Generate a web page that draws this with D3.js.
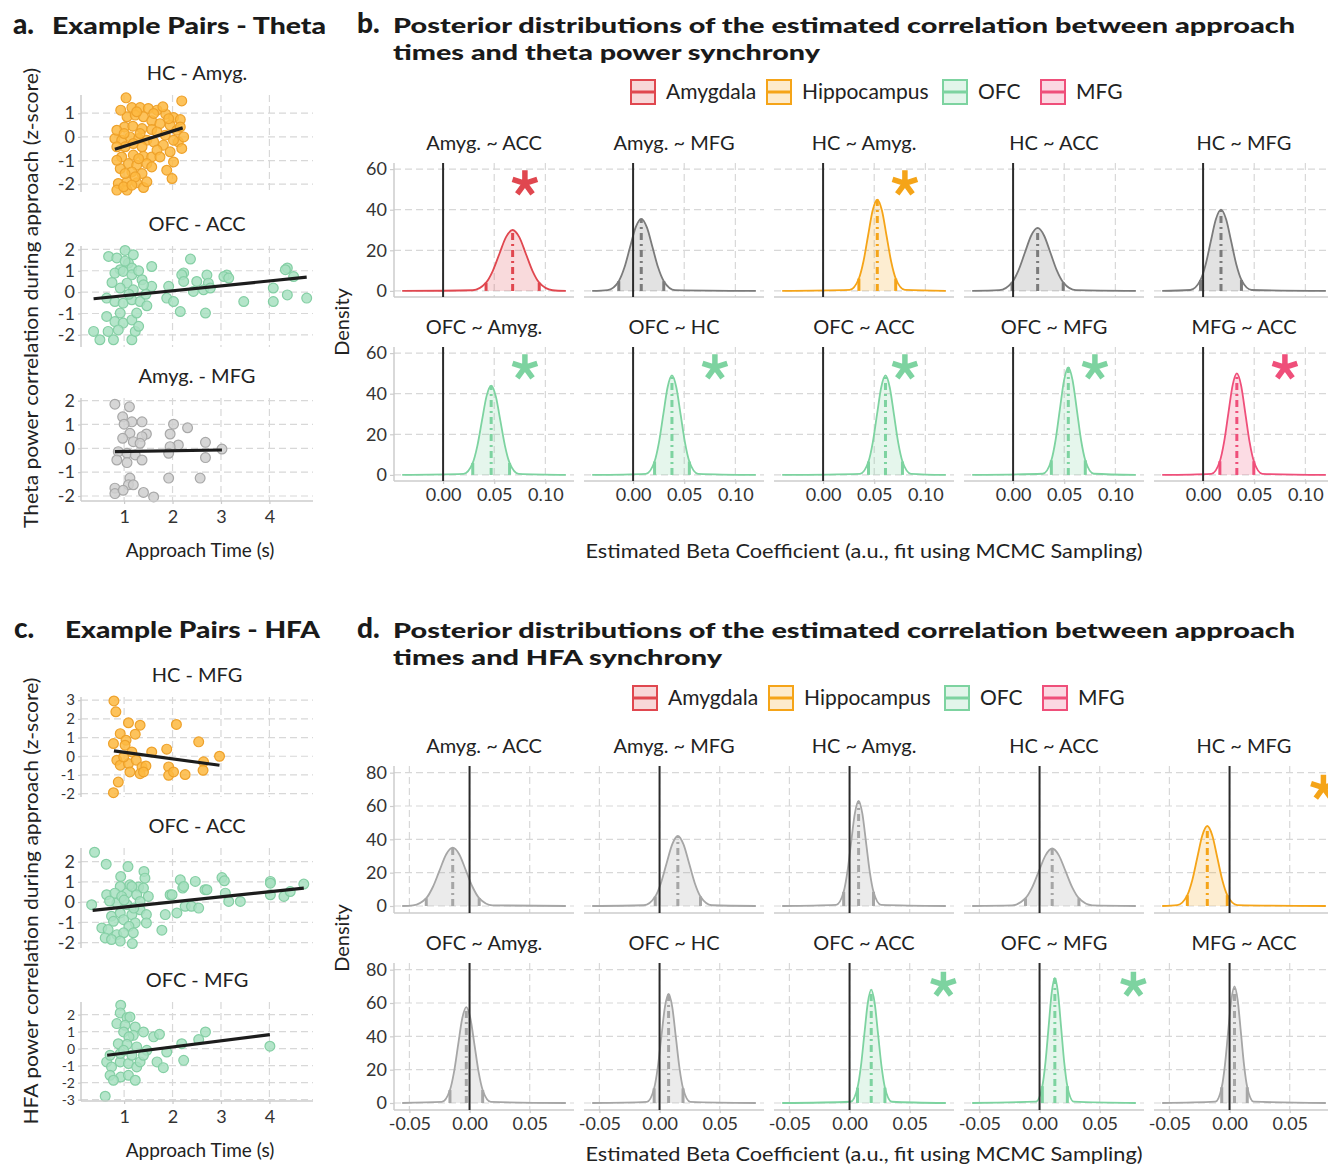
<!DOCTYPE html>
<html>
<head>
<meta charset="utf-8">
<script src="https://d3js.org/d3.v7.min.js"></script>
<style>
  body { margin: 0; background: #fff; }
  text { font-family: Lato, "Open Sans", sans-serif; fill: #222; }
</style>
</head>
<body>
<div id="fig"></div>
<script>
// ---------------- data ----------------
const regions = ["Amygdala", "Hippocampus", "OFC", "MFG"];
const regionColors = ["#e0474f", "#f5a418", "#7dd3a0", "#ef4f7a"];

const pairs = ["Amyg. ~ ACC", "Amyg. ~ MFG", "HC ~ Amyg.", "HC ~ ACC", "HC ~ MFG",
               "OFC ~ Amyg.", "OFC ~ HC", "OFC ~ ACC", "OFC ~ MFG", "MFG ~ ACC"];

// significant region per pair (null = not significant, drawn grey)
const thetaSig = ["Amygdala", null, "Hippocampus", null, null, "OFC", "OFC", "OFC", "OFC", "MFG"];
const hfaSig = [null, null, null, null, "Hippocampus", null, null, "OFC", "OFC", null];

// posterior medians and 95% interval bounds
const thetaMed = [0.068, 0.008, 0.053, 0.024, 0.0175, 0.047, 0.038, 0.061, 0.054, 0.033];
const thetaLo = [0.042, -0.014, 0.035, -0.001, -0.0025, 0.029, 0.021, 0.0444, 0.0374, 0.0164];
const thetaHi = [0.094, 0.030, 0.071, 0.049, 0.0375, 0.065, 0.055, 0.0776, 0.0706, 0.0496];

const hfaMed = [-0.014, 0.0152, 0.0075, 0.0105, -0.0185, -0.0027, 0.0075, 0.018, 0.0127, 0.0041];
const hfaLo = [-0.036, -0.0036, -0.0049, -0.0117, -0.0351, -0.0163, -0.0045, 0.0066, 0.0023, -0.0065];
const hfaHi = [0.008, 0.034, 0.0199, 0.0327, -0.0019, 0.0109, 0.0195, 0.0294, 0.0231, 0.0147];

// posterior density curves, [beta, density]
const thetaCurves = [
  [[-0.04,0],[0.029,0.33],[0.042,4.05],[0.0485,9.75],[0.055,18.2],[0.0615,26.5],[0.068,30],[0.0745,26.5],[0.081,18.2],[0.0875,9.75],[0.094,4.05],[0.107,0.33],[0.12,0]],
  [[-0.04,0],[-0.025,0.39],[-0.014,4.8],[-0.0085,11.5],[-0.003,21.5],[0.0025,31.3],[0.008,35.5],[0.0135,31.3],[0.019,21.5],[0.0245,11.5],[0.030,4.8],[0.041,0.39],[0.12,0]],
  [[-0.04,0],[0.026,0.5],[0.035,6.1],[0.0395,14.6],[0.044,27.3],[0.0485,39.7],[0.053,45],[0.0575,39.7],[0.062,27.3],[0.0665,14.6],[0.071,6.1],[0.080,0.5],[0.12,0]],
  [[-0.04,0],[-0.0135,0.34],[-0.001,4.2],[0.00525,10.1],[0.0115,18.8],[0.01775,27.3],[0.024,31],[0.03025,27.3],[0.0365,18.8],[0.04275,10.1],[0.049,4.2],[0.0615,0.34],[0.12,0]],
  [[-0.04,0],[-0.0125,0.44],[-0.0025,5.4],[0.0025,13],[0.0075,24.3],[0.0125,35.3],[0.0175,40],[0.0225,35.3],[0.0275,24.3],[0.0325,13],[0.0375,5.4],[0.0475,0.44],[0.12,0]],
  [[-0.04,0],[0.020,0.48],[0.029,5.9],[0.0335,14.3],[0.038,26.7],[0.0425,38.8],[0.047,44],[0.0515,38.8],[0.056,26.7],[0.0605,14.3],[0.065,5.9],[0.074,0.48],[0.12,0]],
  [[-0.04,0],[0.0125,0.54],[0.021,6.6],[0.02525,15.9],[0.0295,29.7],[0.03375,43.2],[0.038,49],[0.04225,43.2],[0.0465,29.7],[0.05075,15.9],[0.055,6.6],[0.0635,0.54],[0.12,0]],
  [[-0.04,0],[0.0361,0.54],[0.0444,6.6],[0.04855,15.9],[0.0527,29.7],[0.05685,43.2],[0.061,49],[0.06515,43.2],[0.0693,29.7],[0.07345,15.9],[0.0776,6.6],[0.0859,0.54],[0.12,0]],
  [[-0.04,0],[0.0291,0.58],[0.0374,7.2],[0.04155,17.2],[0.0457,32.2],[0.04985,46.7],[0.054,53],[0.05815,46.7],[0.0623,32.2],[0.06645,17.2],[0.0706,7.2],[0.0789,0.58],[0.12,0]],
  [[-0.04,0],[0.0081,0.55],[0.0164,6.75],[0.02055,16.25],[0.0247,30.35],[0.02885,44.1],[0.033,50],[0.03715,44.1],[0.0413,30.35],[0.04545,16.25],[0.0496,6.75],[0.0579,0.55],[0.12,0]]
];

const hfaCurves = [
  [[-0.056,0],[-0.047,0.39],[-0.036,4.7],[-0.0305,11.4],[-0.025,21.2],[-0.0195,30.9],[-0.014,35],[-0.0085,30.9],[-0.003,21.2],[0.0025,11.4],[0.008,4.7],[0.019,0.39],[0.08,0]],
  [[-0.056,0],[-0.013,0.46],[-0.0036,5.7],[0.0011,13.7],[0.0058,25.5],[0.0105,37],[0.0152,42],[0.0199,37],[0.0246,25.5],[0.0293,13.7],[0.034,5.7],[0.0434,0.46],[0.08,0]],
  [[-0.056,0],[-0.0111,0.69],[-0.0049,8.5],[-0.0018,20.5],[0.0013,38.2],[0.0044,55.6],[0.0075,63],[0.0106,55.6],[0.0137,38.2],[0.0168,20.5],[0.0199,8.5],[0.0261,0.69],[0.08,0]],
  [[-0.056,0],[-0.0228,0.38],[-0.0117,4.66],[-0.00615,11.2],[-0.0006,20.9],[0.00495,30.4],[0.0105,34.5],[0.01605,30.4],[0.0216,20.9],[0.02715,11.2],[0.0327,4.66],[0.0438,0.38],[0.08,0]],
  [[-0.056,0],[-0.0434,0.53],[-0.0351,6.5],[-0.03095,15.6],[-0.0268,29.1],[-0.02265,42.3],[-0.0185,48],[-0.01435,42.3],[-0.0102,29.1],[-0.00605,15.6],[-0.0019,6.5],[0.0064,0.53],[0.08,0]],
  [[-0.056,0],[-0.0231,0.63],[-0.0163,7.8],[-0.0129,18.7],[-0.0095,34.9],[-0.0061,50.7],[-0.0027,57.5],[0.0007,50.7],[0.0041,34.9],[0.0075,18.7],[0.0109,7.8],[0.0177,0.63],[0.08,0]],
  [[-0.056,0],[-0.0105,0.72],[-0.0045,8.8],[-0.0015,21.3],[0.0015,39.8],[0.0045,57.8],[0.0075,65.5],[0.0105,57.8],[0.0135,39.8],[0.0165,21.3],[0.0195,8.8],[0.0255,0.72],[0.08,0]],
  [[-0.056,0],[0.0009,0.75],[0.0066,9.2],[0.00945,22.1],[0.0123,41.3],[0.01515,60],[0.018,68],[0.02085,60],[0.0237,41.3],[0.02655,22.1],[0.0294,9.2],[0.0351,0.75],[0.08,0]],
  [[-0.056,0],[-0.0029,0.83],[0.0023,10.1],[0.0049,24.4],[0.0075,45.5],[0.0101,66.2],[0.0127,75],[0.0153,66.2],[0.0179,45.5],[0.0205,24.4],[0.0231,10.1],[0.0283,0.83],[0.08,0]],
  [[-0.056,0],[-0.0118,0.77],[-0.0065,9.45],[-0.00385,22.75],[-0.0012,42.5],[0.00145,61.7],[0.0041,70],[0.00675,61.7],[0.0094,42.5],[0.01205,22.75],[0.0147,9.45],[0.02,0.77],[0.08,0]]
];

const thetaStar = [0.08, 53];
const hfaStar = [0.078, 71];

const thetaXTicks = [0, 0.05, 0.10];
const hfaXTicks = [-0.05, 0, 0.05];
const thetaYTicks = [0, 20, 40, 60];
const hfaYTicks = [0, 20, 40, 60, 80];

// example pairs: [approach time (s), z-scored power correlation]
const thetaHcAmyg = [[1.04,1.65],[2.19,1.52],[1.16,1.24],[1.33,1.24],[1.50,1.20],[1.68,1.13],[1.86,0.96],[2.02,0.82],[2.16,0.73],[1.06,0.85],[1.23,0.92],[1.40,0.85],[1.57,0.68],[1.74,0.56],[1.01,0.42],[1.18,0.45],[1.37,0.35],[1.57,0.31],[1.95,0.49],[2.09,0.28],[0.81,-0.07],[0.95,-0.14],[1.12,0.00],[1.30,-0.07],[1.47,-0.14],[1.61,-0.21],[1.81,-0.35],[2.12,-0.21],[2.19,-0.49],[1.02,-0.42],[1.19,-0.77],[1.40,-0.82],[1.57,-0.85],[1.09,-1.13],[1.26,-1.20],[1.47,-1.13],[2.02,-1.06],[0.92,-1.34],[1.16,-1.48],[1.37,-1.55],[1.88,-1.41],[1.99,-1.76],[0.88,-1.97],[1.06,-1.90],[1.26,-1.94],[0.85,-2.25],[1.06,-2.25],[1.40,-2.14],[0.93,1.13],[1.26,1.06],[1.61,0.99],[1.80,1.27],[1.92,0.77],[0.85,0.28],[1.00,0.14],[1.33,0.14],[1.68,0.21],[1.85,0.07],[2.23,0.00],[1.19,-0.28],[1.37,-0.42],[0.85,-0.42],[1.68,-0.56],[1.95,-0.63],[0.95,-0.85],[1.30,-0.92],[1.74,-0.85],[0.85,-0.99],[1.57,-1.27],[1.02,-1.55],[1.23,-1.69],[1.47,-1.90],[0.99,-2.11],[1.16,-2.04],[2.16,0.42],[2.02,-0.14]];
const thetaHcAmygFit = [[0.81,-0.52],[2.21,0.38]];

const thetaOfcAcc = [[0.68,1.67],[0.85,1.60],[1.02,1.95],[1.19,1.75],[1.09,1.36],[1.57,1.20],[2.37,1.55],[0.92,1.05],[1.16,1.13],[4.37,1.13],[2.23,0.90],[2.71,0.80],[3.12,0.80],[0.81,0.89],[0.98,0.97],[1.16,0.81],[1.37,0.58],[1.57,0.27],[2.19,0.81],[2.23,0.50],[2.50,0.50],[2.74,0.42],[3.06,0.73],[3.16,0.66],[1.92,0.27],[2.43,0.03],[2.64,0.11],[2.78,0.19],[0.64,-0.28],[0.81,-0.44],[0.98,-0.52],[1.16,-0.36],[1.33,-0.44],[1.47,-0.64],[1.88,-0.28],[2.02,-0.44],[2.16,-0.91],[2.68,-0.98],[3.47,-0.44],[4.08,-0.44],[4.08,0.19],[4.37,-0.13],[4.77,-0.28],[4.50,0.73],[4.33,1.05],[0.64,-1.14],[0.81,-1.38],[0.98,-1.45],[1.16,-1.30],[1.26,-0.98],[0.92,-0.98],[0.37,-1.84],[0.50,-2.23],[0.78,-2.23],[1.16,-2.23],[0.67,-1.84],[0.88,-1.77],[1.23,-1.84],[1.06,0.42],[0.92,0.19],[1.19,0.11],[1.40,0.34],[1.02,1.45],[1.30,1.00],[0.75,0.45],[1.10,-0.10],[1.30,-1.60],[1.45,-0.10]];
const thetaOfcAccFit = [[0.37,-0.31],[4.77,0.70]];

const thetaAmygMfg = [[0.81,1.85],[1.11,1.74],[0.97,1.32],[1.16,1.11],[1.37,1.11],[1.00,1.01],[2.02,1.01],[2.31,0.86],[1.12,0.63],[1.95,0.60],[1.46,0.60],[0.97,0.42],[1.37,0.49],[1.19,0.28],[1.33,0.21],[2.12,0.14],[2.68,0.25],[1.95,0.07],[3.02,-0.03],[0.88,-0.14],[1.06,-0.21],[1.23,-0.28],[1.92,-0.21],[0.85,-0.49],[1.06,-0.60],[1.37,-0.49],[2.68,-0.39],[1.12,-1.25],[1.09,-1.53],[1.19,-1.53],[1.92,-1.25],[2.57,-1.25],[0.81,-1.67],[0.81,-1.90],[0.98,-1.76],[1.40,-1.85],[1.61,-2.04]];
const thetaAmygMfgFit = [[0.81,-0.14],[3.02,-0.07]];

const hfaHcMfg = [[0.79,2.96],[0.83,2.38],[1.09,1.79],[1.33,1.66],[2.08,1.70],[0.92,1.21],[1.23,1.18],[1.04,0.86],[0.78,0.68],[1.02,0.59],[2.54,0.77],[1.16,0.23],[1.57,0.23],[1.88,0.38],[0.85,-0.21],[0.92,-0.48],[1.09,-0.39],[1.25,-0.21],[1.37,-0.57],[1.45,-0.52],[1.12,-0.84],[1.33,-0.93],[1.92,-0.57],[1.92,-1.02],[2.02,-0.84],[2.26,-0.98],[2.64,-0.30],[2.63,-0.75],[2.97,0.00],[0.88,-1.38],[0.78,-1.95],[1.40,-0.84],[0.99,-0.04]];
const hfaHcMfgFit = [[0.79,0.29],[2.97,-0.48]];

const hfaOfcAcc = [[0.39,2.46],[0.63,1.87],[1.08,1.75],[0.93,1.26],[1.41,1.51],[1.43,1.18],[2.16,1.10],[2.47,1.02],[3.02,1.21],[3.07,1.05],[4.02,1.02],[4.71,0.89],[1.12,0.85],[0.92,0.77],[1.30,0.74],[1.95,0.36],[2.21,0.69],[2.67,0.61],[0.33,-0.13],[0.64,0.36],[0.81,0.44],[1.06,0.44],[1.26,0.36],[1.50,0.28],[1.99,0.36],[2.23,0.77],[2.71,0.61],[3.09,0.44],[3.16,0.03],[3.40,0.03],[4.02,0.93],[4.02,0.36],[4.30,0.28],[4.43,0.52],[1.85,-0.62],[2.09,-0.54],[2.26,-0.21],[2.39,-0.21],[2.54,-0.30],[0.74,-0.70],[0.92,-0.54],[1.16,-0.62],[1.33,-0.38],[1.46,-0.62],[0.78,-0.95],[0.99,-0.87],[1.23,-1.03],[1.46,-1.03],[1.10,-1.20],[0.54,-1.28],[0.67,-1.36],[0.85,-1.61],[0.99,-1.52],[1.19,-1.52],[1.78,-1.39],[0.61,-1.77],[0.74,-1.85],[0.92,-1.93],[1.17,-2.05],[0.85,-0.05],[1.06,-0.13],[1.33,0.03],[0.95,0.28],[1.16,0.77],[1.40,0.69],[1.00,0.10],[0.70,0.05],[1.20,-0.30]];
const hfaOfcAccFit = [[0.35,-0.41],[4.71,0.69]];

const hfaOfcMfg = [[0.93,2.55],[0.92,2.10],[1.06,1.82],[1.12,1.86],[0.85,1.47],[1.02,1.37],[1.23,1.27],[0.99,0.98],[1.19,0.78],[1.40,0.98],[1.10,0.69],[1.61,0.69],[1.73,0.84],[2.68,0.98],[2.54,0.53],[2.19,0.29],[0.88,0.29],[1.06,0.25],[1.26,0.10],[1.47,-0.10],[1.88,-0.20],[1.68,-0.78],[1.81,-1.12],[2.23,-0.69],[0.64,-0.78],[0.74,-1.08],[0.92,-0.78],[1.09,-0.88],[1.26,-1.08],[1.33,-0.78],[0.71,-1.57],[0.93,-1.67],[1.09,-1.57],[1.23,-1.86],[0.78,-1.86],[0.61,-2.80],[4.01,0.14],[0.92,-0.29],[1.16,-0.39],[1.40,-0.39],[0.71,-0.39],[0.99,-0.10]];
const hfaOfcMfgFit = [[0.65,-0.39],[4.01,0.82]];

const timeTicks = [1, 2, 3, 4];

// ---------------- drawing ----------------
const W = 1328, H = 1166;
const svg = d3.select("#fig").append("svg").attr("width", W).attr("height", H)
  .style("background", "#fff");

const gridColor = "#d8d8d8";
const axisColor = "#cccccc";

function styleAxis(g, size) {
  g.select(".domain").remove();
  g.selectAll(".tick line").attr("stroke", axisColor).attr("stroke-width", 1.2);
  g.selectAll(".tick text").style("font-size", size + "px").style("fill", "#333");
}

// --- headings ---
function heading(letter, lx, ly, lines, tx, sizes) {
  svg.append("text").attr("x", lx).attr("y", ly).text(letter)
    .style("font-size", "28px").style("font-weight", 900).style("fill", "#1a1a1a");
  lines.forEach(l => {
    svg.append("text").attr("x", tx).attr("y", l.y).text(l.text)
      .attr("textLength", l.len).attr("lengthAdjust", "spacingAndGlyphs")
      .style("font-size", sizes + "px").style("font-weight", 900).style("fill", "#1a1a1a");
  });
}
heading("a.", 13, 34, [{ text: "Example Pairs - Theta", y: 34, len: 274 }], 52, 22);
heading("c.", 14, 638, [{ text: "Example Pairs - HFA", y: 638, len: 255 }], 65, 22);
heading("b.", 357, 33, [
  { text: "Posterior distributions of the estimated correlation between approach", y: 33, len: 902 },
  { text: "times and theta power synchrony", y: 60, len: 427 }], 393, 21);
heading("d.", 357, 638, [
  { text: "Posterior distributions of the estimated correlation between approach", y: 638, len: 902 },
  { text: "times and HFA synchrony", y: 665, len: 329 }], 393, 21);

// --- scatter panels ---
const xTime = d3.scaleLinear().domain([0.11, 4.9]).range([81, 313]);

function scatterPanel(cfg) {
  const g = svg.append("g");
  const y = d3.scaleLinear().domain(cfg.yDomain).range([cfg.bottom, cfg.top]);
  g.selectAll("line.hg").data(cfg.yTicks).join("line")
    .attr("x1", 81).attr("x2", 313).attr("y1", d => y(d)).attr("y2", d => y(d))
    .attr("stroke", gridColor).attr("stroke-width", 1.2).attr("stroke-dasharray", "7,4");
  g.selectAll("line.vg").data(timeTicks).join("line")
    .attr("x1", d => xTime(d)).attr("x2", d => xTime(d)).attr("y1", cfg.top).attr("y2", cfg.bottom)
    .attr("stroke", gridColor).attr("stroke-width", 1.2).attr("stroke-dasharray", "7,4");
  g.append("line").attr("x1", 81).attr("x2", 81).attr("y1", cfg.top).attr("y2", cfg.bottom)
    .attr("stroke", axisColor).attr("stroke-width", 1.5);

  const ya = g.append("g").attr("transform", "translate(81,0)")
    .call(d3.axisLeft(y).tickValues(cfg.yTicks).tickSize(3).tickPadding(3).tickFormat(d => String(d)));
  styleAxis(ya, cfg.tickSize || 18);

  g.selectAll("circle").data(cfg.pts).join("circle")
    .attr("cx", d => xTime(d[0])).attr("cy", d => y(d[1])).attr("r", 4.9)
    .attr("fill", cfg.fill).attr("fill-opacity", 0.85)
    .attr("stroke", cfg.stroke).attr("stroke-width", 1.2);

  g.append("path").datum(cfg.fit)
    .attr("d", d3.line().x(d => xTime(d[0])).y(d => y(d[1])))
    .attr("stroke", "#1c1c1c").attr("stroke-width", 3.2).attr("fill", "none");

  g.append("text").attr("x", 197).attr("y", cfg.top - 15).attr("text-anchor", "middle")
    .text(cfg.title).style("font-size", "20px");

  if (cfg.showX) {
    g.append("line").attr("x1", 81).attr("x2", 313).attr("y1", cfg.bottom).attr("y2", cfg.bottom)
      .attr("stroke", axisColor).attr("stroke-width", 1.5);
    const xa = g.append("g").attr("transform", `translate(0,${cfg.bottom})`)
      .call(d3.axisBottom(xTime).tickValues(timeTicks).tickSize(3).tickPadding(6).tickFormat(d => String(d)));
    styleAxis(xa, 18);
    g.append("text").attr("x", 200).attr("y", cfg.bottom + 56).attr("text-anchor", "middle")
      .text("Approach Time (s)").style("font-size", "19px");
  }
}

const orange = { fill: "#fdb940", stroke: "#eea12a" };
const green = { fill: "#a8e1c1", stroke: "#84cfa4" };
const grey = { fill: "#cfcfcf", stroke: "#a8a8a8" };

scatterPanel({ title: "HC - Amyg.", pts: thetaHcAmyg, fit: thetaHcAmygFit, top: 95, bottom: 192,
  yDomain: [-2.33, 1.77], yTicks: [-2, -1, 0, 1], ...orange });
scatterPanel({ title: "OFC - ACC", pts: thetaOfcAcc, fit: thetaOfcAccFit, top: 246, bottom: 347,
  yDomain: [-2.57, 2.16], yTicks: [-2, -1, 0, 1, 2], ...green });
scatterPanel({ title: "Amyg. - MFG", pts: thetaAmygMfg, fit: thetaAmygMfgFit, top: 398, bottom: 501,
  yDomain: [-2.21, 2.11], yTicks: [-2, -1, 0, 1, 2], showX: true, ...grey });

scatterPanel({ title: "HC - MFG", pts: hfaHcMfg, fit: hfaHcMfgFit, top: 697, bottom: 797,
  yDomain: [-2.18, 3.17], yTicks: [-2, -1, 0, 1, 2, 3], tickSize: 15, ...orange });
scatterPanel({ title: "OFC - ACC", pts: hfaOfcAcc, fit: hfaOfcAccFit, top: 848, bottom: 948,
  yDomain: [-2.27, 2.67], yTicks: [-2, -1, 0, 1, 2], ...green });
scatterPanel({ title: "OFC - MFG", pts: hfaOfcMfg, fit: hfaOfcMfgFit, top: 1002, bottom: 1101,
  yDomain: [-3.08, 2.74], yTicks: [-3, -2, -1, 0, 1, 2], tickSize: 14, showX: true, ...green });

svg.append("text").attr("transform", "translate(38,298) rotate(-90)").attr("text-anchor", "middle")
  .text("Theta power correlation during approach (z-score)")
  .attr("textLength", 460).attr("lengthAdjust", "spacingAndGlyphs").style("font-size", "19px");
svg.append("text").attr("transform", "translate(38,901) rotate(-90)").attr("text-anchor", "middle")
  .text("HFA power correlation during approach (z-score)")
  .attr("textLength", 447).attr("lengthAdjust", "spacingAndGlyphs").style("font-size", "19px");

// --- legends ---
function legend(cy, dx) {
  const keyX = [630, 766, 942, 1040];
  regions.forEach((r, k) => {
    const g = svg.append("g").attr("transform", `translate(${keyX[k] + dx},${cy - 13})`);
    g.append("rect").attr("x", 1).attr("y", 1).attr("width", 24).attr("height", 24)
      .attr("fill", regionColors[k]).attr("fill-opacity", 0.22)
      .attr("stroke", regionColors[k]).attr("stroke-width", 2);
    g.append("line").attr("x1", 1).attr("x2", 25).attr("y1", 13).attr("y2", 13)
      .attr("stroke", regionColors[k]).attr("stroke-width", 3);
    g.append("text").attr("x", 36).attr("y", 20).text(r).style("font-size", "21px");
  });
}
legend(92, 0);
legend(698, 2);

// --- asterisk symbol (5 arms) ---
const asterisk5 = {
  draw(ctx, size) {
    const r = Math.sqrt(size) / 2;
    for (let k = 0; k < 5; k++) {
      const a = (-90 + 72 * k) * Math.PI / 180;
      ctx.moveTo(0, 0);
      ctx.lineTo(r * Math.cos(a), r * Math.sin(a));
    }
  }
};

// --- density facets ---
const colX0 = 394, colStep = 190, panelW = 180;
let clipCount = 0;

function densityBlock(cfg) {
  const x = d3.scaleLinear().domain(cfg.xDomain).range([0, panelW]);
  const y = d3.scaleLinear().domain(cfg.yDomain).range([cfg.rowH, 0]);
  const h = cfg.rowH;

  pairs.forEach((name, i) => {
    const row = Math.floor(i / 5), col = i % 5;
    const g = svg.append("g").attr("transform", `translate(${colX0 + col * colStep},${cfg.rowTops[row]})`);

    g.selectAll("line.hg").data(cfg.yTicks).join("line")
      .attr("x1", 0).attr("x2", panelW).attr("y1", d => y(d)).attr("y2", d => y(d))
      .attr("stroke", gridColor).attr("stroke-width", 1.2).attr("stroke-dasharray", "7,4");
    g.selectAll("line.vg").data(cfg.xTicks).join("line")
      .attr("x1", d => x(d)).attr("x2", d => x(d)).attr("y1", 0).attr("y2", h)
      .attr("stroke", gridColor).attr("stroke-width", 1.2).attr("stroke-dasharray", "7,4");
    g.append("line").attr("x1", 0).attr("x2", panelW).attr("y1", h).attr("y2", h)
      .attr("stroke", axisColor).attr("stroke-width", 1.5);

    if (col === 0) {
      g.append("line").attr("x1", 0).attr("x2", 0).attr("y1", 0).attr("y2", h)
        .attr("stroke", axisColor).attr("stroke-width", 1.5);
      const ya = g.append("g").call(d3.axisLeft(y).tickValues(cfg.yTicks).tickSize(4).tickPadding(3));
      styleAxis(ya, 18);
    }
    if (row === 1) {
      const xa = g.append("g").attr("transform", `translate(0,${h})`)
        .call(d3.axisBottom(x).tickValues(cfg.xTicks).tickSize(3).tickPadding(4).tickFormat(d => d.toFixed(2)));
      styleAxis(xa, 18);
    }

    g.append("text").attr("x", panelW / 2).attr("y", -13).attr("text-anchor", "middle")
      .text(name).style("font-size", "20px");

    const pts = cfg.curves[i];
    const sig = cfg.sig[i];
    const color = sig ? regionColors[regions.indexOf(sig)] : cfg.grey;
    const at = v => pts.find(d => Math.abs(d[0] - v) < 1e-7);

    const clipId = "ci" + (clipCount++);
    g.append("clipPath").attr("id", clipId).append("rect")
      .attr("x", x(cfg.lo[i])).attr("width", x(cfg.hi[i]) - x(cfg.lo[i]))
      .attr("y", -5).attr("height", h + 10);

    const area = d3.area().x(d => x(d[0])).y0(y(0)).y1(d => y(d[1])).curve(d3.curveMonotoneX);
    g.append("path").datum(pts).attr("d", area).attr("clip-path", `url(#${clipId})`)
      .attr("fill", color).attr("fill-opacity", sig ? 0.2 : 0.22);

    [cfg.lo[i], cfg.hi[i]].forEach(v => {
      g.append("line").attr("x1", x(v)).attr("x2", x(v)).attr("y1", y(0)).attr("y2", y(at(v)[1]))
        .attr("stroke", color).attr("stroke-width", 3);
    });
    g.append("line").attr("x1", x(cfg.med[i])).attr("x2", x(cfg.med[i]))
      .attr("y1", y(0)).attr("y2", y(at(cfg.med[i])[1]))
      .attr("stroke", color).attr("stroke-width", 3).attr("stroke-dasharray", "7,4,2,4");

    const line = d3.line().x(d => x(d[0])).y(d => y(d[1])).curve(d3.curveMonotoneX);
    g.append("path").datum(pts).attr("d", line).attr("fill", "none")
      .attr("stroke", color).attr("stroke-width", 1.8);

    g.append("line").attr("x1", x(0)).attr("x2", x(0)).attr("y1", 0).attr("y2", h)
      .attr("stroke", "#2b2b2b").attr("stroke-width", 2);

    if (sig) {
      g.append("path")
        .attr("d", d3.symbol().type(asterisk5).size(676)())
        .attr("transform", `translate(${x(cfg.star[0])},${y(cfg.star[1])})`)
        .attr("stroke", color).attr("stroke-width", 5.5).attr("fill", "none");
    }
  });

  const yMid = (cfg.rowTops[0] + cfg.rowTops[1] + h) / 2;
  svg.append("text").attr("transform", `translate(349,${yMid}) rotate(-90)`).attr("text-anchor", "middle")
    .text("Density").style("font-size", "20px");
  svg.append("text").attr("x", 864).attr("y", cfg.titleY).attr("text-anchor", "middle")
    .text("Estimated Beta Coefficient (a.u., fit using MCMC Sampling)")
    .attr("textLength", 557).attr("lengthAdjust", "spacingAndGlyphs").style("font-size", "20px");
}

densityBlock({
  curves: thetaCurves, sig: thetaSig, med: thetaMed, lo: thetaLo, hi: thetaHi,
  xDomain: [-0.048, 0.128], xTicks: thetaXTicks, yDomain: [-3, 63], yTicks: thetaYTicks,
  rowTops: [163, 347], rowH: 134, grey: "#7b7b7b", star: thetaStar, titleY: 558
});
densityBlock({
  curves: hfaCurves, sig: hfaSig, med: hfaMed, lo: hfaLo, hi: hfaHi,
  xDomain: [-0.0628, 0.0868], xTicks: hfaXTicks, yDomain: [-4.2, 84], yTicks: hfaYTicks,
  rowTops: [766, 963], rowH: 147, grey: "#a6a6a6", star: hfaStar, titleY: 1161
});
</script>
</body>
</html>
